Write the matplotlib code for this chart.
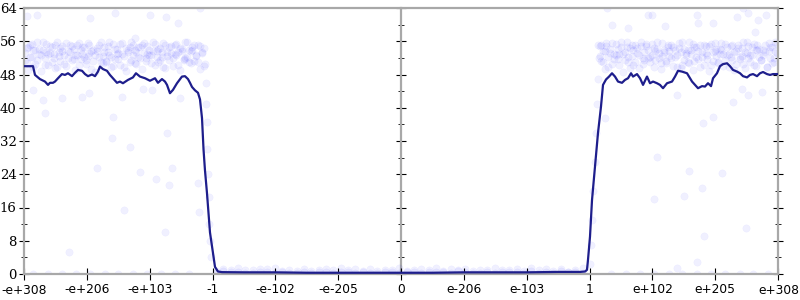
import matplotlib
matplotlib.use("Agg")
import matplotlib.pyplot as plt
from matplotlib.ticker import MultipleLocator, FixedLocator, NullFormatter

# ---------------- data (x in tick-spacing units of the float-ordinal axis) ----------------
X_TICK_LABELS = ['-e+308', '-e+206', '-e+103', '-1', '-e-102', '-e-205', '0',
                 'e-206', 'e-103', '1', 'e+102', 'e+205', 'e+308']
X_TICK_POS = [-6, -5, -4, -3, -2, -1, 0, 1, 2, 3, 4, 5, 6]

LINE_X = [-6.000, -5.857, -5.825, -5.746, -5.666, -5.618, -5.587, -5.539, -5.507, -5.459,
          -5.396, -5.348, -5.300, -5.236, -5.189, -5.141, -5.077, -5.029, -4.982, -4.918,
          -4.870, -4.823, -4.791, -4.743, -4.680, -4.632, -4.584, -4.520, -4.473, -4.425,
          -4.345, -4.266, -4.218, -4.154, -4.074, -3.995, -3.915, -3.868, -3.804, -3.756,
          -3.724, -3.677, -3.629, -3.565, -3.486, -3.438, -3.390, -3.358, -3.326, -3.279,
          -3.231, -3.199, -3.184, -3.167, -3.143, -3.120, -3.088, -3.040, -2.992, -2.960,
          -2.913, -2.849, -2.500, -2.000, -1.500, -1.000, -0.500, 0.000, 0.500, 1.000,
          1.500, 2.000, 2.500, 2.850, 2.929, 2.960, 2.976, 3.008, 3.040, 3.088,
          3.135, 3.183, 3.215, 3.263, 3.311, 3.358, 3.406, 3.454, 3.517, 3.565,
          3.613, 3.661, 3.693, 3.756, 3.804, 3.852, 3.915, 3.963, 4.011, 4.074,
          4.122, 4.170, 4.234, 4.313, 4.361, 4.409, 4.472, 4.552, 4.632, 4.679,
          4.727, 4.791, 4.838, 4.886, 4.934, 4.966, 5.029, 5.077, 5.125, 5.189,
          5.236, 5.284, 5.348, 5.396, 5.443, 5.507, 5.555, 5.603, 5.666, 5.714,
          5.762, 5.825, 5.873, 5.921, 6.000]
LINE_Y = [50.0, 50.0, 47.9, 46.9, 46.3, 45.5, 46.0, 46.0, 46.3, 47.1,
          48.1, 47.9, 48.3, 47.6, 48.4, 49.1, 48.9, 48.1, 47.6, 48.0,
          47.6, 48.7, 49.9, 49.3, 48.9, 47.9, 47.1, 46.0, 46.3, 45.9,
          46.7, 47.3, 48.3, 47.5, 47.1, 46.5, 47.1, 46.0, 46.9, 46.3,
          45.5, 43.5, 44.3, 45.9, 47.5, 47.6, 46.9, 46.0, 45.0, 44.2,
          43.6, 42.0, 40.0, 37.5, 30.0, 25.0, 19.5, 10.0, 5.0, 1.7,
          0.6, 0.45, 0.4, 0.4, 0.3, 0.3, 0.3, 0.3, 0.3, 0.4,
          0.4, 0.4, 0.5, 0.5, 0.6, 1.0, 3.4, 9.0, 17.8, 25.8,
          33.9, 40.3, 45.5, 46.8, 47.5, 48.3, 47.5, 46.3, 46.0, 46.7,
          47.1, 48.3, 47.5, 48.1, 47.1, 45.5, 47.5, 45.9, 46.3, 45.9,
          45.5, 44.7, 45.9, 46.3, 47.5, 48.9, 48.7, 48.3, 46.3, 45.5,
          44.7, 45.2, 45.1, 45.9, 45.2, 47.1, 48.3, 50.0, 50.5, 50.7,
          50.0, 49.1, 48.7, 48.3, 47.6, 47.3, 47.9, 48.1, 47.6, 48.3,
          48.6, 48.1, 47.9, 48.1, 48.1]

LEFT_BAND_X = [-5.99, -5.96, -5.93, -5.90, -5.88, -5.85, -5.82, -5.79, -5.76, -5.73,
               -5.70, -5.67, -5.65, -5.62, -5.59, -5.56, -5.53, -5.50, -5.47, -5.44,
               -5.42, -5.39, -5.36, -5.33, -5.30, -5.27, -5.24, -5.21, -5.19, -5.16,
               -5.13, -5.10, -5.07, -5.04, -5.01, -4.98, -4.96, -4.93, -4.90, -4.87,
               -4.84, -4.81, -4.78, -4.75, -4.73, -4.70, -4.67, -4.64, -4.61, -4.58,
               -4.55, -4.52, -4.50, -4.47, -4.44, -4.41, -4.38, -4.35, -4.32, -4.29,
               -4.27, -4.24, -4.21, -4.18, -4.15, -4.12, -4.09, -4.06, -4.04, -4.01,
               -3.98, -3.95, -3.92, -3.89, -3.86, -3.83, -3.81, -3.78, -3.75, -3.72,
               -3.69, -3.66, -3.63, -3.60, -3.58, -3.55, -3.52, -3.49, -3.46, -3.43,
               -3.40, -3.37, -3.35, -3.32, -3.29, -3.26, -3.23, -3.20, -3.17, -3.14]
LEFT_BAND_Y1 = [53.2, 50.8, 54.6, 52.1, 55.3, 49.7, 53.9, 51.4, 54.1, 52.7,
                55.8, 50.2, 53.5, 52.9, 54.8, 51.1, 53.0, 55.1, 49.9, 52.4,
                54.3, 53.7, 50.6, 55.5, 52.0, 53.3, 54.9, 51.8, 52.6, 55.0,
                50.4, 53.8, 54.5, 52.2, 51.5, 55.6, 53.1, 49.4, 54.0, 52.8,
                53.6, 55.2, 50.9, 52.5, 54.7, 51.2, 53.4, 55.7, 52.3, 50.1,
                54.2, 53.0, 51.7, 55.4, 52.9, 49.8, 54.4, 53.5, 51.0, 55.9,
                52.6, 53.9, 50.5, 54.6, 52.0, 55.0, 53.2, 51.3, 54.8, 52.7,
                50.7, 53.7, 55.3, 52.1, 54.1, 51.6, 53.3, 55.6, 49.6, 52.4,
                54.5, 53.1, 51.9, 55.1, 52.8, 50.3, 54.3, 53.6, 51.4, 55.7,
                52.2, 54.0, 50.8, 53.8, 55.2, 52.5, 51.1, 54.9, 53.4, 50.0]
LEFT_BAND_Y2 = [51.6, 54.4, 49.2, 55.1, 52.3, 53.8, 50.5, 55.7, 52.9, 48.8,
                54.0, 51.9, 55.4, 50.3, 53.1, 54.7, 52.0, 49.5, 55.9, 53.3,
                51.2, 54.9, 52.6, 50.0, 53.6, 55.2, 51.5, 54.2, 49.1, 52.8,
                55.5, 51.7, 53.0, 54.6, 50.6, 52.4, 55.0, 53.7, 51.3, 48.6,
                54.3, 52.1, 55.8, 50.8, 53.5, 51.0, 54.8, 52.7, 49.9, 55.3,
                51.8, 54.1, 53.2, 50.2, 55.6, 52.5, 48.9, 53.9, 54.5, 51.4,
                55.1, 50.7, 53.4, 52.2, 54.7, 49.3, 55.5, 51.9, 53.0, 54.0,
                52.6, 55.8, 50.4, 53.7, 51.1, 54.4, 52.3, 49.7, 55.0, 53.5,
                51.6, 54.8, 50.1, 52.9, 55.4, 53.3, 49.0, 54.2, 51.8, 52.0,
                55.7, 50.9, 53.6, 54.6, 51.2, 52.7, 55.2, 49.4, 53.1, 54.3]

RIGHT_BAND_X = [3.16, 3.19, 3.22, 3.25, 3.27, 3.30, 3.33, 3.36, 3.39, 3.42,
                3.45, 3.47, 3.50, 3.53, 3.56, 3.59, 3.62, 3.65, 3.67, 3.70,
                3.73, 3.76, 3.79, 3.82, 3.85, 3.87, 3.90, 3.93, 3.96, 3.99,
                4.02, 4.05, 4.07, 4.10, 4.13, 4.16, 4.19, 4.22, 4.25, 4.27,
                4.30, 4.33, 4.36, 4.39, 4.42, 4.45, 4.47, 4.50, 4.53, 4.56,
                4.59, 4.62, 4.65, 4.67, 4.70, 4.73, 4.76, 4.79, 4.82, 4.85,
                4.87, 4.90, 4.93, 4.96, 4.99, 5.02, 5.05, 5.07, 5.10, 5.13,
                5.16, 5.19, 5.22, 5.25, 5.27, 5.30, 5.33, 5.36, 5.39, 5.42,
                5.45, 5.47, 5.50, 5.53, 5.56, 5.59, 5.62, 5.65, 5.67, 5.70,
                5.73, 5.76, 5.79, 5.82, 5.85, 5.87, 5.90, 5.93, 5.96, 5.99]
RIGHT_BAND_Y1 = [52.4, 55.0, 50.9, 53.6, 54.8, 49.8, 53.1, 55.5, 51.7, 52.8,
                 54.2, 50.3, 55.9, 53.0, 51.5, 54.6, 52.1, 49.6, 55.2, 53.8,
                 51.0, 54.4, 52.6, 55.7, 50.5, 53.3, 54.9, 51.9, 52.3, 55.4,
                 49.9, 53.7, 54.1, 52.0, 50.8, 55.6, 53.4, 51.2, 54.7, 52.5,
                 55.1, 50.1, 53.9, 52.7, 54.3, 49.5, 55.8, 51.6, 53.2, 54.0,
                 50.7, 52.9, 55.3, 51.3, 54.5, 53.6, 49.7, 52.2, 55.0, 53.1,
                 51.8, 54.8, 50.4, 53.5, 55.6, 52.4, 51.1, 54.2, 53.8, 50.0,
                 55.4, 52.6, 53.0, 54.9, 51.4, 49.2, 53.7, 55.2, 52.1, 54.4,
                 50.6, 53.3, 55.8, 51.9, 52.8, 54.6, 50.2, 53.9, 55.1, 52.3,
                 51.5, 54.0, 53.4, 49.9, 55.5, 52.0, 54.7, 51.0, 53.6, 55.3]
RIGHT_BAND_Y2 = [54.9, 51.3, 53.7, 49.4, 55.6, 52.2, 54.1, 50.6, 53.0, 55.3,
                 51.8, 52.9, 54.6, 48.7, 53.5, 55.9, 51.1, 54.3, 52.4, 50.2,
                 55.0, 53.2, 49.6, 54.8, 52.0, 51.6, 55.4, 53.9, 50.9, 52.7,
                 54.4, 51.4, 55.7, 53.1, 49.3, 52.5, 54.0, 50.7, 55.2, 53.6,
                 51.9, 54.7, 52.3, 49.9, 55.5, 53.3, 50.4, 54.2, 52.8, 51.0,
                 55.8, 53.8, 49.0, 54.5, 52.1, 51.7, 55.1, 53.4, 50.3, 54.9,
                 52.6, 48.9, 55.3, 51.2, 53.7, 54.1, 50.8, 52.9, 55.6, 53.0,
                 51.5, 54.6, 49.7, 52.2, 55.0, 53.5, 50.5, 54.3, 51.8, 52.4,
                 55.9, 49.5, 53.2, 54.8, 51.1, 52.6, 55.4, 50.0, 53.9, 54.2,
                 51.4, 52.8, 55.2, 49.8, 53.6, 54.5, 50.7, 52.0, 55.7, 53.1]

MID_BAND_X = [-2.95, -2.83, -2.71, -2.60, -2.48, -2.36, -2.25, -2.13, -2.01, -1.90,
              -1.78, -1.66, -1.55, -1.43, -1.31, -1.20, -1.08, -0.96, -0.85, -0.73,
              -0.61, -0.50, -0.38, -0.26, -0.15, -0.03, 0.09, 0.20, 0.32, 0.44,
              0.55, 0.67, 0.79, 0.90, 1.02, 1.14, 1.25, 1.37, 1.49, 1.60,
              1.72, 1.84, 1.95, 2.07, 2.19, 2.30, 2.42, 2.54, 2.65, 2.77, 2.89]
MID_BAND_Y1 = [0.8, 1.2, 0.4, 1.5, 0.9, 0.3, 1.1, 0.6, 1.4, 0.7, 1.0, 0.2, 1.3, 0.8, 0.5,
               1.2, 0.9, 1.5, 0.4, 1.1, 0.7, 1.3, 0.3, 1.0, 0.6, 1.4, 0.8, 0.5, 1.2, 0.9,
               1.5, 0.4, 1.1, 0.7, 1.3, 0.2, 1.0, 0.6, 1.4, 0.9, 0.5, 1.2, 0.8, 1.5, 0.3,
               1.1, 0.7, 1.3, 0.6, 1.0, 1.4]
MID_BAND_Y2 = [0.3, 0.7, 1.0, 0.5, 0.2, 0.9, 0.4, 1.1, 0.3, 0.6, 0.2, 0.8, 0.5, 0.3, 1.0,
               0.4, 0.2, 0.6, 0.9, 0.3, 0.5, 0.2, 0.8, 0.4, 1.0, 0.3, 0.6, 0.9, 0.2, 0.5,
               0.4, 0.8, 0.3, 1.0, 0.5, 0.7, 0.3, 0.9, 0.2, 0.6, 1.0, 0.4, 0.3, 0.7, 0.9,
               0.5, 0.2, 0.8, 0.4, 0.6, 0.3]

OUTLIER_X = [-5.95, -5.79, -4.95, -4.55, -4.00, -3.74, -3.55, -4.23, -5.86, -5.70,
             -5.40, -5.08, -4.97, -4.58, -4.44, -4.11, -3.96, -3.52, -4.60, -4.31,
             -3.73, -5.67, -4.84, -4.15, -3.90, -3.65, -3.69, -3.23, -4.41, -3.75,
             -3.22, -5.28, -3.20,
             3.28, 3.93, 4.00, 4.20, 3.61, 3.36, 4.71, 4.73, 4.97, 5.44,
             5.52, 5.68, 5.63, 5.81, 5.35, 3.25, 4.39, 4.81, 4.97, 5.28,
             5.43, 5.75, 5.52, 4.07, 4.58, 5.11, 4.50, 4.03, 4.79, 5.49,
             4.82, 4.71, 4.39,
             -3.12, -3.11, -3.10, -3.09, -3.08, -3.07, -3.06, -3.05, -3.04, -3.03,
             3.00, 3.02, 3.04, 3.06, 3.08, 3.10, 3.12, 3.14, 3.15, 3.13,
             -5.85, -5.62, -5.40, -5.18, -4.95, -4.71, -4.50, -4.27, -4.05, -3.82,
             -3.60, -3.38, 3.35, 3.58, 3.80, 4.03, 4.26, 4.48, 4.71, 4.93,
             5.16, 5.39, 5.61, 5.84]
OUTLIER_Y = [62.1, 62.3, 61.6, 62.8, 62.3, 61.8, 60.4, 56.8, 44.3, 41.9,
             42.3, 42.6, 43.6, 37.8, 42.6, 44.5, 44.3, 42.3, 32.7, 30.6,
             33.9, 38.7, 25.5, 24.5, 22.9, 25.5, 21.4, 21.9, 15.4, 10.1,
             14.9, 5.3, 64.0,
             64.0, 62.3, 62.3, 59.7, 59.2, 59.9, 62.3, 60.4, 60.4, 64.0,
             62.8, 61.1, 58.2, 62.3, 61.8, 37.5, 43.1, 36.3, 37.8, 41.4,
             44.5, 43.8, 43.1, 28.2, 24.8, 24.3, 18.8, 18.0, 20.7, 11.1,
             9.1, 2.9, 1.4,
             50.5, 46.0, 41.0, 36.5, 30.0, 24.0, 18.5, 12.0, 8.0, 4.0,
             2.5, 7.0, 13.0, 20.0, 27.0, 34.0, 41.0, 47.0, 52.0, 55.0,
             0.0, 0.0, 0.0, 0.0, 0.0, 0.0, 0.0, 0.0, 0.0, 0.0,
             0.0, 0.0, 0.0, 0.0, 0.0, 0.0, 0.0, 0.0, 0.0, 0.0,
             0.0, 0.0, 0.0, 0.0]

# ---------------- styling ----------------
POINT_COLOR = '#0000ff'
LINE_COLOR = '#1e1e8c'
AXIS_GRAY = '#a8a8a8'

fig = plt.figure(figsize=(8, 3), dpi=100)
ax = fig.add_axes([24 / 800, 1 - 274 / 300, (778 - 24) / 800, (274 - 8) / 300])

pt_kw = dict(s=28, c=POINT_COLOR, alpha=0.06, linewidths=0.3, edgecolors=POINT_COLOR, zorder=1)
for xs, ys in [(LEFT_BAND_X, LEFT_BAND_Y1), (LEFT_BAND_X, LEFT_BAND_Y2),
               (RIGHT_BAND_X, RIGHT_BAND_Y1), (RIGHT_BAND_X, RIGHT_BAND_Y2),
               (MID_BAND_X, MID_BAND_Y1), (MID_BAND_X, MID_BAND_Y2),
               (OUTLIER_X, OUTLIER_Y)]:
    ax.scatter(xs, ys, **pt_kw)

ax.plot(LINE_X, LINE_Y, color=LINE_COLOR, lw=1.6, zorder=3, solid_joinstyle='round')

ax.set_xlim(-6, 6)
ax.set_ylim(0, 64)

for side in ['left', 'right', 'top', 'bottom']:
    ax.spines[side].set_color(AXIS_GRAY)
    ax.spines[side].set_linewidth(1.6)

ax.yaxis.set_major_locator(MultipleLocator(8))
ax.yaxis.set_minor_locator(MultipleLocator(4))
ax.xaxis.set_major_locator(FixedLocator(X_TICK_POS))
# outer labels are drawn separately so they stay inside the figure
ax.set_xticklabels([''] + X_TICK_LABELS[1:-1] + [''], fontsize=8.8, family='DejaVu Sans')
for lab in ax.get_yticklabels():
    lab.set_family('DejaVu Serif')
    lab.set_fontsize(9.5)

ax.tick_params(axis='y', which='major', direction='inout', length=7.5, width=0.8,
               color='black', left=True, right=True, pad=1.5, labelsize=9.5)
ax.tick_params(axis='y', which='minor', direction='inout', length=4.5, width=0.6,
               color='black', left=True, right=True)
ax.tick_params(axis='x', which='major', direction='inout', length=8.5, width=0.8,
               color='black', pad=2.5)

fig.text(0.002, 1 - 290 / 300, X_TICK_LABELS[0], ha='left', va='center',
         fontsize=8.8, family='DejaVu Sans')
fig.text(0.999, 1 - 290 / 300, X_TICK_LABELS[-1], ha='right', va='center',
         fontsize=8.8, family='DejaVu Sans')

# central vertical axis at x = 0
sec = ax.secondary_yaxis(0.5)
sec.spines['right'].set_color(AXIS_GRAY)
sec.spines['right'].set_linewidth(1.6)
sec.yaxis.set_major_locator(MultipleLocator(8))
sec.yaxis.set_minor_locator(MultipleLocator(4))
sec.yaxis.set_major_formatter(NullFormatter())
sec.yaxis.set_minor_formatter(NullFormatter())
sec.tick_params(axis='y', which='major', direction='inout', length=7.5, width=0.8, color='black')
sec.tick_params(axis='y', which='minor', direction='inout', length=4.5, width=0.6, color='black')

fig.savefig('out.png', dpi=100)
